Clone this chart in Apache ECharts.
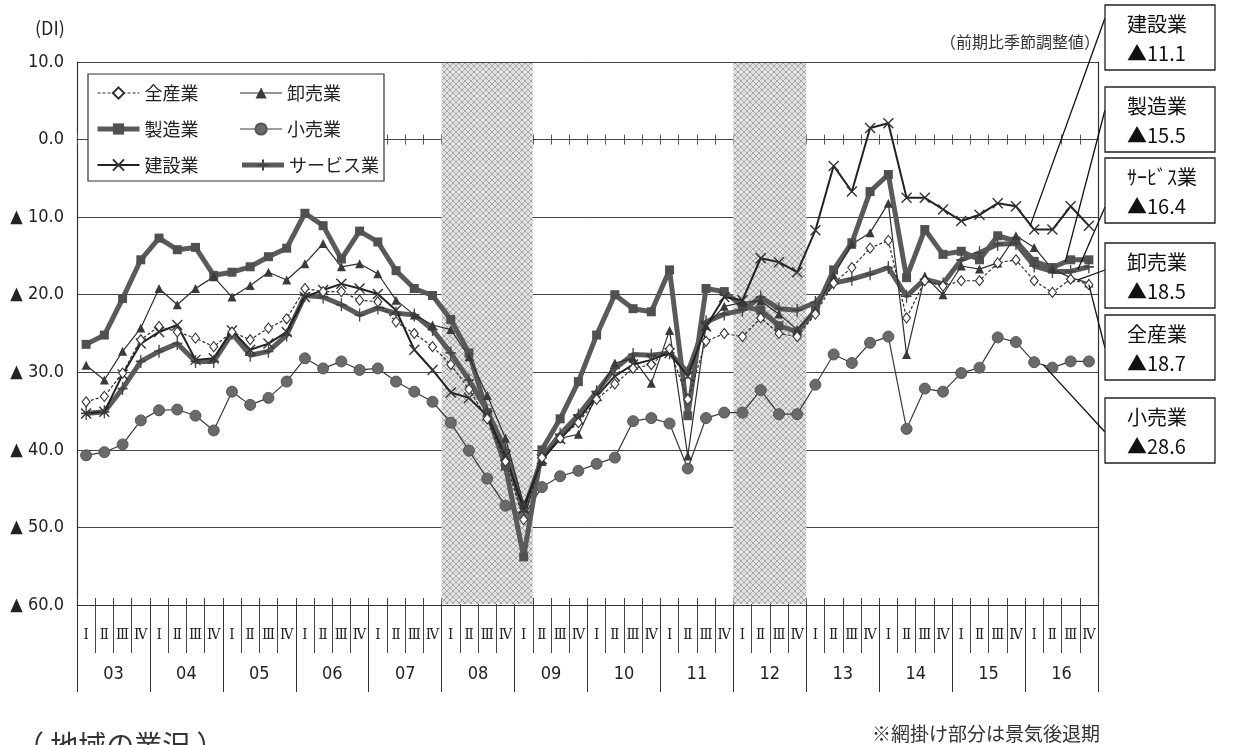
<!DOCTYPE html>
<html><head><meta charset="utf-8">
<script src="https://cdn.jsdelivr.net/npm/echarts@6/dist/echarts.min.js"></script>
<style>html,body{margin:0;padding:0;background:#fff;}#c{width:1238px;height:745px;}</style>
</head><body><div id="c"></div>
<script>
// ---------- data ----------
const years = ['03','04','05','06','07','08','09','10','11','12','13','14','15','16'];
const quarterNames = ['Ⅰ','Ⅱ','Ⅲ','Ⅳ'];
const categories = years.flatMap(y => quarterNames.map(q => y + q));
const shadedRanges = [['08Ⅰ','09Ⅰ'], ['12Ⅰ','12Ⅳ']];
const yTicks = [10, 0, -10, -20, -30, -40, -50, -60];

const allIndustry = [
-33.8,-33.1,-30.1,-25.8, -24.1,-24.8,-25.6,-26.7, -24.8,-25.8,-24.3,-23.1, -19.2,-19.6,-19.6,-20.7, -20.9,-23.5,-25.0,-26.7,
-29.0,-32.2,-36.0,-41.5, -49.0,-41.0,-38.5,-36.5, -33.5,-31.5,-29.5,-29.0, -27.0,-33.5,-26.0,-25.0, -25.4,-23.0,-25.0,-25.4,
-22.5,-18.5,-16.5,-14.0, -13.0,-23.0,-18.2,-18.9, -18.2,-18.2,-15.9,-15.5, -18.2,-19.7,-18.0,-18.7];
const wholesale = [
-29.1,-31.0,-27.3,-24.3, -19.2,-21.3,-19.2,-17.7, -20.3,-18.8,-17.1,-18.1, -16.0,-13.4,-16.4,-16.0, -17.3,-20.7,-22.6,-23.9,
-24.5,-28.0,-33.0,-38.5, -47.0,-41.5,-38.5,-38.0, -33.0,-28.8,-28.2,-31.4, -24.6,-40.8,-24.0,-21.5, -21.0,-20.8,-22.5,-24.5,
-22.0,-17.5,-13.5,-12.0, -8.2,-27.7,-17.6,-20.0, -16.3,-16.7,-15.9,-12.4, -13.9,-16.7,-17.8,-18.5];
const manufacturing = [
-26.4,-25.2,-20.5,-15.5, -12.7,-14.2,-13.9,-17.5, -17.1,-16.4,-15.1,-14.0, -9.5,-11.1,-15.4,-11.8, -13.2,-16.9,-19.2,-20.1,
-23.2,-27.5,-35.2,-42.1, -53.8,-40.0,-36.0,-31.2, -25.2,-20.0,-21.8,-22.2, -16.8,-35.6,-19.2,-19.6, -21.5,-22.0,-24.0,-24.8,
-22.0,-16.8,-13.3,-6.7, -4.5,-17.8,-11.6,-14.8, -14.4,-15.5,-12.4,-13.1, -15.7,-16.5,-15.5,-15.5];
const retail = [
-40.7,-40.3,-39.3,-36.2, -34.9,-34.8,-35.6,-37.5, -32.5,-34.2,-33.3,-31.2, -28.2,-29.5,-28.6,-29.7, -29.5,-31.2,-32.5,-33.8,
-36.5,-40.1,-43.7,-47.2, -48.5,-44.8,-43.4,-42.7, -41.8,-41.0,-36.3,-35.9, -36.6,-42.4,-35.9,-35.2, -35.2,-32.3,-35.4,-35.4,
-31.6,-27.7,-28.8,-26.2, -25.4,-37.3,-32.1,-32.5, -30.1,-29.4,-25.5,-26.1, -28.7,-29.4,-28.6,-28.6];
const construction = [
-35.3,-35.1,-30.3,-26.3, -24.8,-23.9,-28.4,-28.2, -24.6,-27.1,-26.3,-24.8, -20.3,-19.4,-18.6,-19.2, -19.9,-22.0,-27.1,-29.7,
-32.6,-33.3,-35.6,-40.8, -47.6,-41.2,-38.6,-36.1, -33.1,-30.5,-29.0,-28.4, -27.5,-30.5,-24.1,-20.3, -20.7,-15.3,-15.8,-17.1,
-11.7,-3.4,-6.7,1.5, 2.1,-7.5,-7.5,-9.0, -10.5,-9.7,-8.2,-8.6, -11.6,-11.6,-8.6,-11.1];
const services = [
-35.3,-35.1,-32.1,-28.6, -27.3,-26.3,-28.6,-28.6, -25.0,-27.8,-27.3,-25.2, -20.1,-20.3,-21.3,-22.6, -21.7,-22.4,-22.6,-24.5,
-27.5,-31.0,-35.0,-40.0, -48.0,-41.0,-38.0,-35.5, -32.5,-29.5,-27.7,-27.8, -27.5,-30.0,-23.5,-22.5, -22.0,-20.3,-21.8,-22.0,
-21.0,-18.5,-18.0,-17.3, -16.5,-20.2,-18.0,-18.6, -15.5,-14.6,-13.5,-13.4, -16.3,-17.0,-17.0,-16.4];

const legendOrder = ['全産業','卸売業','製造業','小売業','建設業','サービス業'];

// ---------- style ----------
const JP = "'Noto Sans CJK JP', sans-serif";
const NARROW = "'Liberation Sans Narrow', 'DejaVu Sans Condensed', 'Noto Sans CJK JP', sans-serif";
const ROMAN = "'DejaVu Serif Condensed', 'DejaVu Serif', 'Noto Sans CJK JP', serif";
const DARK = '#2e2e2e';
const THICK = '#5a5a5a';

const pc = document.createElement('canvas');
pc.width = 6; pc.height = 6;
const g = pc.getContext('2d');
g.fillStyle = '#e2e2e2'; g.fillRect(0, 0, 6, 6);
g.strokeStyle = '#a6a6a6'; g.lineWidth = 1;
g.beginPath(); g.moveTo(0, 0); g.lineTo(6, 6); g.moveTo(6, 0); g.lineTo(0, 6); g.stroke();
const shadePattern = { image: pc, repeat: 'repeat' };

const chart = echarts.init(document.getElementById('c'), null, { renderer: 'canvas' });

function line(name, data, o) {
  return Object.assign({
    type: 'line', name: name, data: data, xAxisIndex: 0, yAxisIndex: 0,
    showAllSymbol: true, animation: false, emphasis: { disabled: true }, z: 3
  }, o);
}

const seriesStyles = {
  '小売業': { symbol: 'circle', symbolSize: 11,
    lineStyle: { color: '#3a3a3a', width: 1.2 }, itemStyle: { color: '#6a6a6a', borderColor: '#555', borderWidth: 1 } },
  '製造業': { symbol: 'rect', symbolSize: 9,
    lineStyle: { color: THICK, width: 5 }, itemStyle: { color: '#505050' } },
  'サービス業': { symbol: 'path://M5,0L5,10M0,5L10,5', symbolSize: [10, 13],
    lineStyle: { color: THICK, width: 5 }, itemStyle: { color: '#444', borderColor: '#444', borderWidth: 1.5 } },
  '卸売業': { symbol: 'triangle', symbolSize: 9,
    lineStyle: { color: DARK, width: 1.2 }, itemStyle: { color: '#3a3a3a' } },
  '建設業': { symbol: 'path://M0,0L10,10M10,0L0,10', symbolSize: 10,
    lineStyle: { color: '#222', width: 2 }, itemStyle: { color: '#333', borderColor: '#333', borderWidth: 1.4 } },
  '全産業': { symbol: 'diamond', symbolSize: [8, 10],
    lineStyle: { color: DARK, width: 1.2, type: [3, 2] }, itemStyle: { color: '#fff', borderColor: '#333', borderWidth: 1.1 } }
};

const catAxisBase = { type: 'category', data: categories, boundaryGap: true, position: 'bottom' };

const option = {
  animation: false,
  grid: { left: 77, right: 140, top: 62, bottom: 140 },
  legend: {
    data: legendOrder.map(n => ({ name: n, lineStyle: { width: seriesStyles[n].lineStyle.width, color: seriesStyles[n].lineStyle.color, type: seriesStyles[n].lineStyle.type || 'solid' } })),
    left: 88, top: 74, width: 300, orient: 'horizontal',
    itemWidth: 42, itemHeight: 14, itemGap: 18,
    padding: [10, 5, 7, 7], borderColor: '#333', borderWidth: 1.2, backgroundColor: '#fff',
    textStyle: { fontFamily: JP, fontSize: 18, color: '#222', width: 77, lineHeight: 18 },
    selectedMode: false, z: 8
  },
  xAxis: [
    Object.assign({}, catAxisBase, {
      axisLine: { onZero: false, lineStyle: { color: '#333', width: 1.2 } },
      axisTick: { show: true, interval: 0, length: 48, lineStyle: { color: '#444' } },
      axisLabel: { interval: 0, margin: 23, fontFamily: ROMAN, fontSize: 15, color: '#222',
        formatter: v => v.slice(2) },
      splitLine: { show: false }
    }),
    Object.assign({}, catAxisBase, {
      axisLine: { show: false, onZero: false },
      axisTick: { show: true, inside: true, interval: 0, length: 7, lineStyle: { color: '#444' } },
      axisLabel: { show: false }, splitLine: { show: false }
    }),
    {
      type: 'category', data: years, boundaryGap: true, position: 'bottom',
      axisLine: { show: false, onZero: false },
      axisTick: { show: true, interval: 0, length: 87, lineStyle: { color: '#333' } },
      axisLabel: { interval: 0, margin: 60, fontFamily: NARROW, fontSize: 18, color: '#222' },
      splitLine: { show: false }
    },
    Object.assign({}, catAxisBase, {
      axisLine: { show: true, onZero: true, onZeroAxisIndex: 0, lineStyle: { color: '#444' } },
      axisTick: { show: true, interval: 0, length: 5, lineStyle: { color: '#555' } },
      axisLabel: { show: false }, splitLine: { show: false }
    }),
    Object.assign({}, catAxisBase, {
      axisLine: { show: false, onZero: true, onZeroAxisIndex: 0 },
      axisTick: { show: true, inside: true, interval: 0, length: 5, lineStyle: { color: '#555' } },
      axisLabel: { show: false }, splitLine: { show: false }
    })
  ],
  yAxis: [
    {
      type: 'value', min: yTicks[yTicks.length - 1], max: yTicks[0], interval: 10, position: 'left',
      axisLine: { show: true, lineStyle: { color: '#333', width: 1.2 } },
      axisTick: { show: false },
      splitLine: { show: true, lineStyle: { color: '#444', width: 1 } },
      axisLabel: { margin: 13, fontFamily: NARROW, fontSize: 18, color: '#222',
        formatter: v => v < 0 ? '▲ ' + (-v).toFixed(1) : v.toFixed(1) }
    },
    {
      type: 'value', min: yTicks[yTicks.length - 1], max: yTicks[0], interval: 10, position: 'right',
      axisLine: { show: true, lineStyle: { color: '#333', width: 1.2 } },
      axisTick: { show: false }, axisLabel: { show: false }, splitLine: { show: false }
    }
  ],
  series: [
    {
      type: 'custom', name: 'shade', xAxisIndex: 0, yAxisIndex: 0, silent: true, z: 1,
      data: shadedRanges.map(r => [categories.indexOf(r[0]), categories.indexOf(r[1]), yTicks[0]]),
      encode: { x: [0, 1], y: 2 },
      renderItem: function (params, api) {
        const a = api.coord([api.value(0), yTicks[0]]);
        const b = api.coord([api.value(1), yTicks[yTicks.length - 1]]);
        const w = api.size([1, 0])[0];
        return { type: 'rect', shape: { x: a[0] - w / 2, y: a[1] + 1, width: b[0] - a[0] + w, height: b[1] - a[1] - 2 },
          style: { fill: shadePattern } };
      }
    },
    line('小売業', retail, seriesStyles['小売業']),
    line('製造業', manufacturing, seriesStyles['製造業']),
    line('サービス業', services, seriesStyles['サービス業']),
    line('卸売業', wholesale, seriesStyles['卸売業']),
    line('建設業', construction, seriesStyles['建設業']),
    line('全産業', allIndustry, seriesStyles['全産業'])
  ]
};
chart.setOption(option);

// ---------- annotations ----------
const seriesData = { '建設業': construction, '製造業': manufacturing, 'サービス業': services,
  '卸売業': wholesale, '全産業': allIndustry, '小売業': retail };
const callouts = [
  { series: '建設業', label: '建設業', top: 5, anchorY: 18, t: 51.8 },
  { series: '製造業', label: '製造業', top: 87, anchorY: 110, t: 53.7 },
  { series: 'サービス業', label: 'ｻｰﾋﾞｽ業', top: 158, anchorY: 207, t: 54.4 },
  { series: '卸売業', label: '卸売業', top: 243, anchorY: 270, t: 54.4 },
  { series: '全産業', label: '全産業', top: 315, anchorY: 348, t: 55 },
  { series: '小売業', label: '小売業', top: 398, anchorY: 432, t: 52.5 }
];
function pointAt(name, t) {
  const d = seriesData[name];
  const i0 = Math.floor(t), i1 = Math.min(i0 + 1, d.length - 1), f = t - i0;
  const p0 = chart.convertToPixel({ seriesName: name }, [i0, d[i0]]);
  const p1 = chart.convertToPixel({ seriesName: name }, [i1, d[i1]]);
  return [p0[0] + (p1[0] - p0[0]) * f, p0[1] + (p1[1] - p0[1]) * f];
}
const BOX_X = 1105, BOX_W = 110, BOX_H = 65;
const gfx = [
  { type: 'text', x: 35, y: 28, z: 20, style: { text: '(DI)', fontFamily: JP, fontSize: 18, fill: '#222', verticalAlign: 'middle' } },
  { type: 'text', x: 1100, y: 42, z: 20, style: { text: '（前期比季節調整値）', fontFamily: JP, fontSize: 16, fill: '#333', align: 'right', verticalAlign: 'middle' } },
  { type: 'text', x: 1100, y: 734, z: 20, style: { text: '※網掛け部分は景気後退期', fontFamily: JP, fontSize: 19, fill: '#333', align: 'right', verticalAlign: 'middle' } },
  { type: 'text', x: 16, y: 731, z: 20, style: { text: '（ 地域の業況 ）', fontFamily: JP, fontSize: 28, fill: '#333', verticalAlign: 'top' } }
];
callouts.forEach(c => {
  const d = seriesData[c.series];
  const last = d[d.length - 1];
  const p = pointAt(c.series, c.t);
  gfx.push({ type: 'line', z: 20, shape: { x1: BOX_X, y1: c.anchorY, x2: p[0], y2: p[1] }, style: { stroke: '#111', lineWidth: 1.3 } });
  gfx.push({ type: 'rect', z: 21, shape: { x: BOX_X, y: c.top, width: BOX_W, height: BOX_H }, style: { fill: '#fff', stroke: '#222', lineWidth: 1.3 } });
  gfx.push({ type: 'text', z: 22, x: 1127, y: c.top + 19, style: { text: c.label, fontFamily: JP, fontSize: 20, fill: '#111', verticalAlign: 'middle' } });
  gfx.push({ type: 'text', z: 22, x: 1127, y: c.top + 48, style: { text: (last < 0 ? '▲' : '') + Math.abs(last).toFixed(1), fontFamily: JP, fontSize: 20, fill: '#111', verticalAlign: 'middle' } });
});
chart.setOption({ graphic: gfx });
</script></body></html>
